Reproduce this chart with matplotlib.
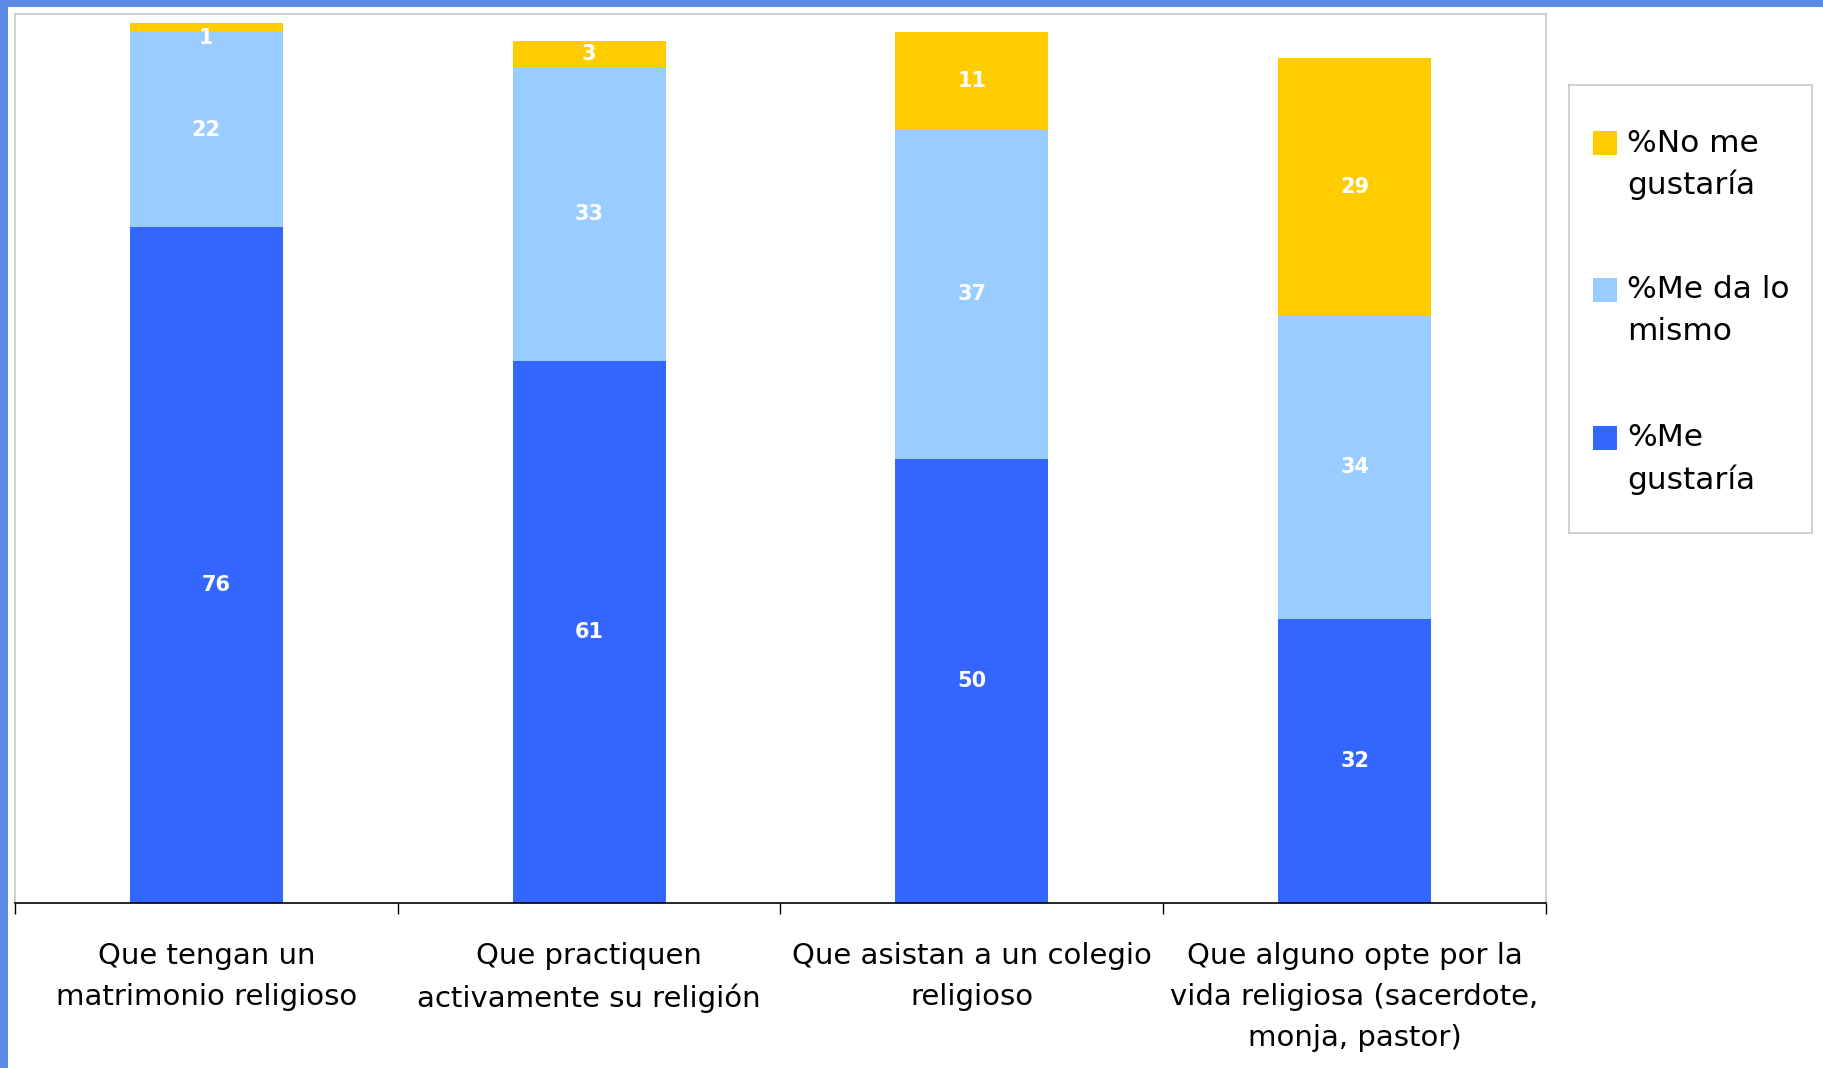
import matplotlib
matplotlib.use("Agg")
import matplotlib.pyplot as plt
from matplotlib.patches import Rectangle
import numpy as np

categories = [
    "Que tengan un\nmatrimonio religioso",
    "Que practiquen\nactivamente su religión",
    "Que asistan a un colegio\nreligioso",
    "Que alguno opte por la\nvida religiosa (sacerdote,\nmonja, pastor)",
]
series_names = ["%Me\ngustaría", "%Me da lo\nmismo", "%No me\ngustaría"]
me_gustaria = [76, 61, 50, 32]
me_da_lo_mismo = [22, 33, 37, 34]
no_me_gustaria = [1, 3, 11, 29]

colors = ["#3366FF", "#99CCFF", "#FFCC00"]
FONT = "DejaVu Sans"

W, H = 1824, 1068
fig = plt.figure(figsize=(W / 100, H / 100), dpi=100)
fig.patch.set_facecolor("white")

# blue frame (top and left)
fig.patches.append(Rectangle((0, 1 - 7 / H), 1, 7 / H, transform=fig.transFigure,
                             facecolor="#5B8AE5", edgecolor="none", zorder=0))
fig.patches.append(Rectangle((0, 0), 8 / W, 1, transform=fig.transFigure,
                             facecolor="#5B8AE5", edgecolor="none", zorder=0))

ax_l, ax_r, ax_t, ax_b = 15, 1546, 14, 903
ax = fig.add_axes([ax_l / W, (H - ax_b) / H, (ax_r - ax_l) / W, (ax_b - ax_t) / H])

x = np.arange(len(categories))
data = [me_gustaria, me_da_lo_mismo, no_me_gustaria]
bottom = np.zeros(len(categories))
# label nudges in points (dx, dy) to mimic the reference placement
nudges = {(0, 0): (7, -14), (2, 0): (0, -8)}
for si, vals in enumerate(data):
    vals = np.array(vals, dtype=float)
    ax.bar(x, vals, width=0.40, bottom=bottom, color=colors[si], edgecolor="none", zorder=2)
    for ci, v in enumerate(vals):
        dx, dy = nudges.get((si, ci), (0, 0))
        ax.annotate(f"{int(v)}", (x[ci], bottom[ci] + v / 2), xytext=(dx, dy),
                    textcoords="offset points", ha="center", va="center",
                    color="white", fontsize=15, fontweight="bold", family=FONT, zorder=3)
    bottom += vals

ax.set_xlim(-0.5, len(categories) - 0.5)
ax.set_ylim(0, 100)
ax.set_yticks([])
ax.set_xticks(np.arange(-0.5, len(categories), 1.0))
ax.set_xticklabels([])
ax.tick_params(axis="x", which="major", length=8, width=1, color="black", direction="out")
ax.set_xticks(x, minor=True)
ax.set_xticklabels(categories, minor=True, fontsize=21, family=FONT, linespacing=1.6)
ax.tick_params(axis="x", which="minor", length=0, pad=28)

for s in ["left", "top", "right"]:
    ax.spines[s].set_color("#C8C8C8")
    ax.spines[s].set_linewidth(1.2)
ax.spines["bottom"].set_color("black")
ax.spines["bottom"].set_linewidth(1.2)

# legend box (manual, to match the reference layout)
lx0, ly0, lx1, ly1 = 1569, 85, 1812, 533
lax = fig.add_axes([lx0 / W, (H - ly1) / H, (lx1 - lx0) / W, (ly1 - ly0) / H])
lax.set_xlim(0, lx1 - lx0)
lax.set_ylim(ly1 - ly0, 0)
lax.set_xticks([])
lax.set_yticks([])
for s in lax.spines.values():
    s.set_color("#C8C8C8")
    s.set_linewidth(1.2)
entry_y = [58, 205, 353]
order = [2, 1, 0]
for k, si in enumerate(order):
    yc = entry_y[k]
    lax.add_patch(Rectangle((24, yc - 12), 24, 24, facecolor=colors[si], edgecolor="none"))
    for li, line in enumerate(series_names[si].split("\n")):
        lax.text(58, yc + li * 42, line, ha="left", va="center", fontsize=22.5,
                 family=FONT, color="black")

fig.savefig("out.png", dpi=100, facecolor="white")
